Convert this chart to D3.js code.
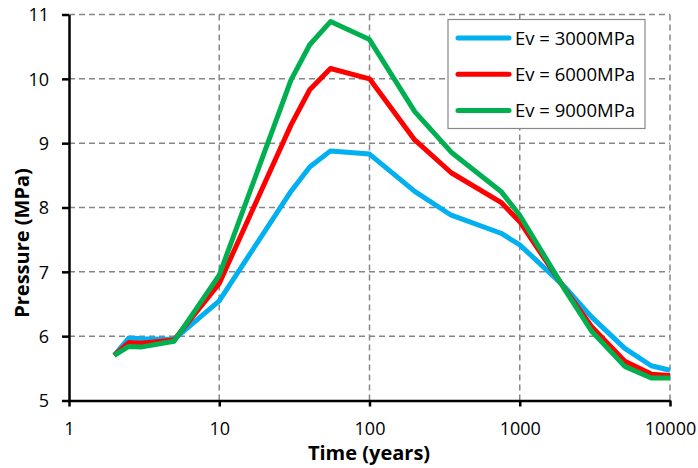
<!DOCTYPE html>
<html>
<head>
<meta charset="utf-8">
<script src="https://cdn.jsdelivr.net/npm/d3@7"></script>
<style>
  body { margin: 0; background: #fff; }
  text { font-family: "Open Sans", sans-serif; fill: #000; }
  .axisTitle { font-weight: bold; font-size: 20px; }
</style>
</head>
<body>
<div id="chart"></div>
<script>
// time (years) on log axis
var years = [2, 2.5, 3, 5, 10, 30, 40, 55, 100, 200, 350, 750, 1000, 2000, 3000, 5000, 7500, 10000];
var ev3000 = [5.7, 5.97, 5.96, 5.95, 6.55, 8.25, 8.63, 8.88, 8.83, 8.25, 7.88, 7.6, 7.42, 6.76, 6.3, 5.81, 5.54, 5.47];
var ev6000 = [5.7, 5.9, 5.89, 5.94, 6.82, 9.28, 9.83, 10.16, 10.0, 9.05, 8.54, 8.08, 7.78, 6.73, 6.15, 5.61, 5.41, 5.39];
var ev9000 = [5.7, 5.84, 5.83, 5.92, 6.95, 9.98, 10.53, 10.89, 10.61, 9.49, 8.86, 8.25, 7.88, 6.72, 6.08, 5.53, 5.35, 5.35];
var seriesNames = ['Ev = 3000MPa', 'Ev = 6000MPa', 'Ev = 9000MPa'];
var seriesColors = ['#00b0f0', '#ff0000', '#00b050'];
var xTicks = [1, 10, 100, 1000, 10000];
var yTicks = [5, 6, 7, 8, 9, 10, 11];

var svgWidth = 698;
var svgHeight = 468;
var margin = { top: 14.5, right: 28, bottom: 67.5, left: 69 };
var width = svgWidth - margin.left - margin.right;
var height = svgHeight - margin.top - margin.bottom;

var svg = d3.select('#chart')
    .append('svg')
    .attr('width', svgWidth)
    .attr('height', svgHeight);

var chartGroup = svg.append('g')
    .attr('transform', `translate(${margin.left}, ${margin.top})`);

var xScale = d3.scaleLog().domain([1, 10000]).range([0, width]);
var yScale = d3.scaleLinear().domain([5, 11]).range([height, 0]);

// dashed grid
chartGroup.selectAll('line.hgrid')
    .data(yTicks.slice(1))
    .enter()
    .append('line')
    .attr('x1', 0)
    .attr('x2', width)
    .attr('y1', d => yScale(d))
    .attr('y2', d => yScale(d))
    .attr('stroke', '#868686')
    .attr('stroke-width', 1.5)
    .attr('stroke-dasharray', '6,4');

chartGroup.selectAll('line.vgrid')
    .data(xTicks.slice(1))
    .enter()
    .append('line')
    .attr('x1', d => xScale(d))
    .attr('x2', d => xScale(d))
    .attr('y1', 0)
    .attr('y2', height)
    .attr('stroke', '#868686')
    .attr('stroke-width', 1.5)
    .attr('stroke-dasharray', '6,4');

// axes
var bottomAxis = d3.axisBottom(xScale)
    .tickValues(xTicks)
    .tickFormat(d3.format('d'))
    .tickSizeInner(6)
    .tickSizeOuter(0)
    .tickPadding(16);
var leftAxis = d3.axisLeft(yScale)
    .tickValues(yTicks)
    .tickFormat(d3.format('d'))
    .tickSizeInner(7)
    .tickSizeOuter(0)
    .tickPadding(13);

var xAxisG = chartGroup.append('g')
    .attr('transform', `translate(0, ${height})`)
    .call(bottomAxis);
var yAxisG = chartGroup.append('g')
    .call(leftAxis);

[xAxisG, yAxisG].forEach(function(g) {
    g.select('.domain').attr('stroke', '#000').attr('stroke-width', 2.5);
    g.selectAll('.tick line').attr('stroke', '#000').attr('stroke-width', 2.5);
    g.selectAll('.tick text')
        .style('font-family', '"Open Sans", sans-serif')
        .style('font-size', '18px')
        .attr('fill', '#000');
});
yAxisG.selectAll('.tick text').attr('dy', '0.36em');

// series lines
var allSeries = [ev3000, ev6000, ev9000];
var line = d3.line()
    .x(d => xScale(d[0]))
    .y(d => yScale(d[1]));

allSeries.forEach(function(vals, i) {
    chartGroup.append('path')
        .datum(years.map((t, j) => [t, vals[j]]))
        .attr('d', line)
        .attr('fill', 'none')
        .attr('stroke', seriesColors[i])
        .attr('stroke-width', 5)
        .attr('stroke-linejoin', 'round');
});

// legend
var legend = svg.append('g')
    .attr('transform', 'translate(448, 19.5)');
legend.append('rect')
    .attr('width', 197)
    .attr('height', 109)
    .attr('fill', '#fff')
    .attr('stroke', '#888')
    .attr('stroke-width', 1.2);
seriesNames.forEach(function(name, i) {
    var y = 18.5 + i * 36.3;
    legend.append('line')
        .attr('x1', 10)
        .attr('x2', 61)
        .attr('y1', y)
        .attr('y2', y)
        .attr('stroke', seriesColors[i])
        .attr('stroke-width', 5)
        .attr('stroke-linecap', 'round');
    legend.append('text')
        .attr('x', 67)
        .attr('y', y)
        .attr('dy', '0.36em')
        .style('font-size', '18.5px')
        .text(name);
});

// axis titles
svg.append('text')
    .attr('class', 'axisTitle')
    .attr('x', 369)
    .attr('y', 460)
    .attr('text-anchor', 'middle')
    .text('Time (years)');

svg.append('text')
    .attr('class', 'axisTitle')
    .attr('transform', 'translate(29, 243) rotate(-90)')
    .attr('text-anchor', 'middle')
    .text('Pressure (MPa)');
</script>
</body>
</html>
